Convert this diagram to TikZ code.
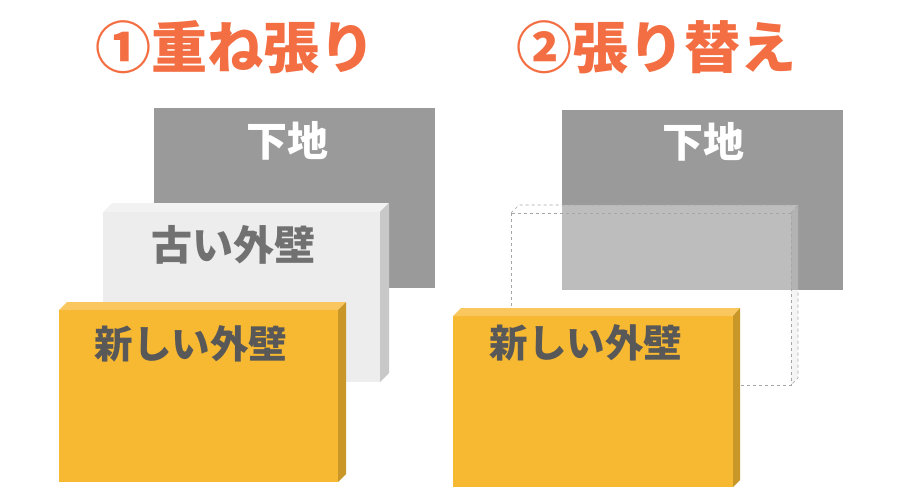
\documentclass[tikz,border=0pt]{standalone}
\usepackage{fontspec}
\newfontfamily\jpfont{Noto Sans CJK JP}
\definecolor{titleorange}{RGB}{243,110,66}
\definecolor{groundgray}{RGB}{154,154,154}
\definecolor{oldfront}{RGB}{237,237,237}
\definecolor{oldtop}{RGB}{242,242,242}
\definecolor{oldside}{RGB}{200,200,200}
\definecolor{newfront}{RGB}{247,184,50}
\definecolor{newtop}{RGB}{249,199,94}
\definecolor{newside}{RGB}{201,150,40}
\definecolor{textgray}{RGB}{88,88,88}
\begin{document}
\begin{tikzpicture}[x=1pt,y=-1pt,inner sep=0pt,
  title/.style={text=titleorange,font=\jpfont\bfseries\fontsize{56}{60}\selectfont},
  label/.style={text=textgray,font=\jpfont\bfseries\fontsize{41}{46}\selectfont},
  newlabel/.style={text=textgray,font=\jpfont\bfseries\fontsize{38.5}{44}\selectfont},
  dashedge/.style={draw=gray!70,dashed,line width=0.6pt}]
\useasboundingbox (0,0) rectangle (900,500);
% titles
\node[title] (t1) at (235,47) {①重ね張り};
\node[title] (t2) at (656,47) {②張り替え};

% (1) overlay
\fill[groundgray] (154,108) rectangle (435,288);
\node[label,text=white] (g1) at (287,141) {下地};
\fill[oldfront] (103,212) rectangle (380,382);
\fill[oldtop] (103,212) -- (112,203) -- (389,203) -- (380,212) -- cycle;
\fill[oldside] (380,212) -- (389,203) -- (389,373) -- (380,382) -- cycle;
\node[label,text=textgray!85] (o1) at (233,245) {古い外壁};
\fill[newfront] (59,310) rectangle (338,482);
\fill[newtop] (59,310) -- (67,302) -- (346,302) -- (338,310) -- cycle;
\fill[newside] (338,310) -- (346,302) -- (346,474) -- (338,482) -- cycle;
\node[newlabel] (n1) at (191,344) {新しい外壁};

% (2) replacement
\fill[groundgray] (562,110) rectangle (843,290);
\node[label,text=white] (g2) at (703,142) {下地};
\begin{scope}[opacity=0.35]
\fill[white] (511,213) rectangle (791,385);
\fill[white] (511,213) -- (519,205) -- (798,205) -- (791,213) -- cycle;
\fill[oldside!50] (791,213) -- (798,205) -- (798,378) -- (791,385) -- cycle;
\end{scope}
\draw[dashedge] (511,213) rectangle (791,385);
\draw[dashedge] (511,213) -- (519,205) -- (798,205) -- (798,378) -- (791,385);
\draw[dashedge] (791,213) -- (798,205);
\fill[newfront] (453,316) rectangle (733,487);
\fill[newtop] (453,316) -- (461,308) -- (740,308) -- (733,316) -- cycle;
\fill[newside] (733,316) -- (740,308) -- (740,480) -- (733,487) -- cycle;
\node[newlabel] (n2) at (586,343) {新しい外壁};
\end{tikzpicture}
\end{document}
